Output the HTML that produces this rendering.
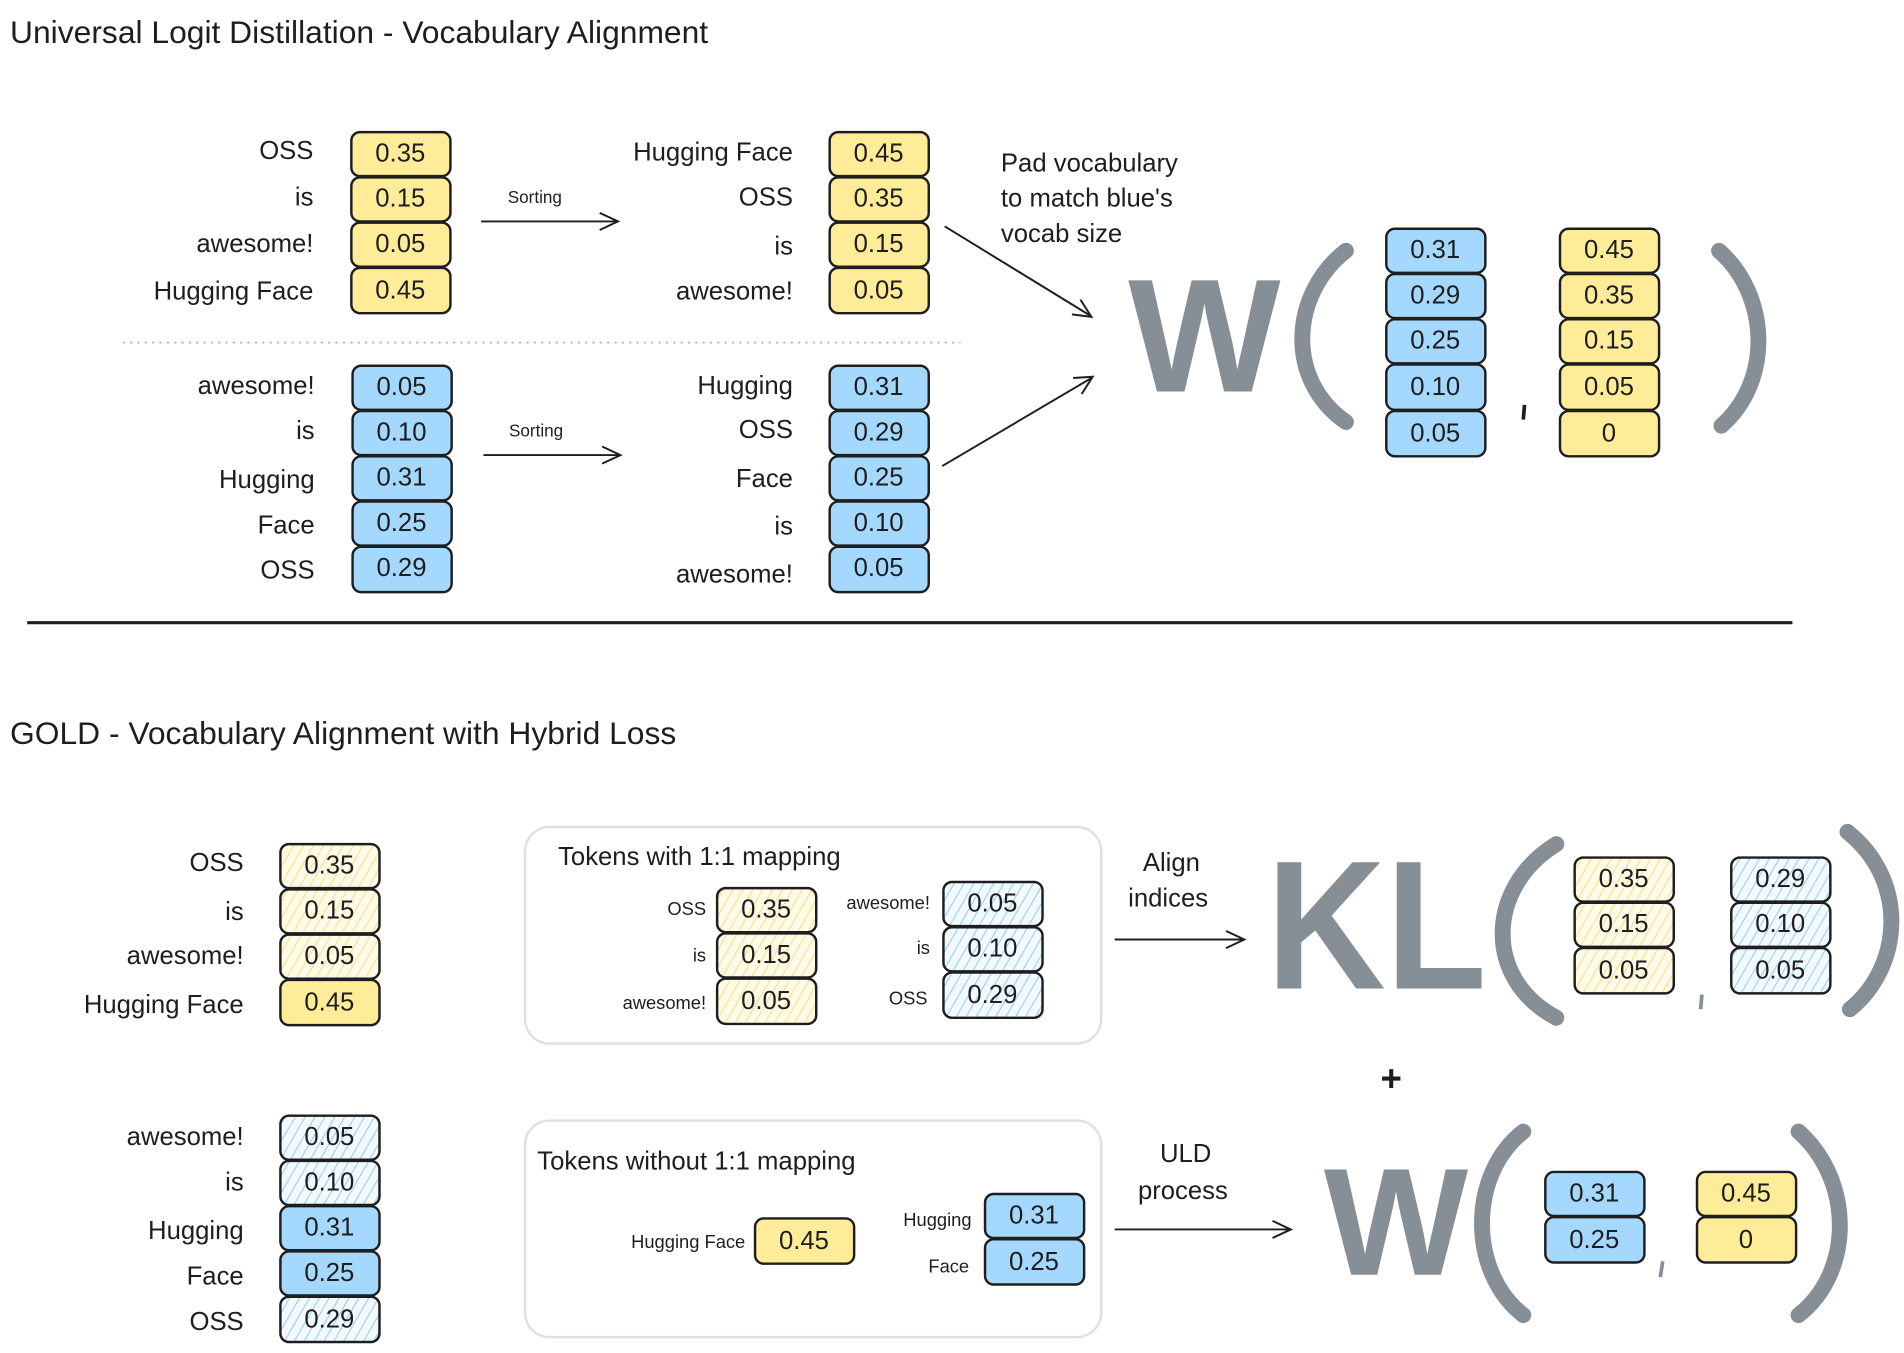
<!DOCTYPE html>
<html><head><meta charset="utf-8"><style>
html,body{margin:0;padding:0;background:#fff;}
svg{display:block;}
text{font-family:"Liberation Sans",sans-serif;fill:#1e1e1e;}
.t{font-size:26px;}
.l{font-size:21px;text-anchor:end;}
.s{font-size:15px;text-anchor:end;}
.v{font-size:21px;text-anchor:middle;}
.big{font-weight:bold;fill:#868e96;}
.y{fill:#ffec99;stroke:#1e1e1e;stroke-width:2;}
.b{fill:#a5d8ff;stroke:#1e1e1e;stroke-width:2;}
.yh{fill:url(#hy);stroke:#1e1e1e;stroke-width:2;}
.bh{fill:url(#hb);stroke:#1e1e1e;stroke-width:2;}
.ar{stroke:#1e1e1e;stroke-width:1.6;fill:none;}
.par{stroke:#868e96;stroke-width:13;fill:none;stroke-linecap:round;}
</style></head><body>
<svg width="1904" height="1353" viewBox="0 0 1556 1106" xmlns="http://www.w3.org/2000/svg">
<defs>
<pattern id="hy" width="7" height="7" patternUnits="userSpaceOnUse" patternTransform="rotate(30)"><rect width="7" height="7" fill="#fffbe8"/><line x1="0" y1="0" x2="0" y2="7" stroke="#f5dd7a" stroke-width="1.5"/></pattern>
<pattern id="hb" width="7" height="7" patternUnits="userSpaceOnUse" patternTransform="rotate(30)"><rect width="7" height="7" fill="#f2f9ff"/><line x1="0" y1="0" x2="0" y2="7" stroke="#8cc8f5" stroke-width="1.5"/></pattern>
</defs>

<text class="t" x="8" y="35">Universal Logit Distillation - Vocabulary Alignment</text>

<!-- top-left yellow -->
<rect class="y" x="287" y="108" width="81" height="36" rx="7"/><text class="v" x="327" y="132">0.35</text>
<rect class="y" x="287" y="145" width="81" height="36" rx="7"/><text class="v" x="327" y="169">0.15</text>
<rect class="y" x="287" y="182" width="81" height="36" rx="7"/><text class="v" x="327" y="206">0.05</text>
<rect class="y" x="287" y="219" width="81" height="37" rx="7"/><text class="v" x="327" y="244">0.45</text>
<text class="l" x="256" y="130">OSS</text><text class="l" x="256" y="168">is</text><text class="l" x="256" y="206">awesome!</text><text class="l" x="256" y="245">Hugging Face</text>

<line class="ar" x1="393" y1="181" x2="504" y2="181"/><path class="ar" d="M490 174 L505 181 L490 188"/>
<text x="437" y="166" style="font-size:14px;text-anchor:middle">Sorting</text>

<rect class="y" x="678" y="108" width="81" height="36" rx="7"/><text class="v" x="718" y="132">0.45</text>
<rect class="y" x="678" y="145" width="81" height="36" rx="7"/><text class="v" x="718" y="169">0.35</text>
<rect class="y" x="678" y="182" width="81" height="36" rx="7"/><text class="v" x="718" y="206">0.15</text>
<rect class="y" x="678" y="219" width="81" height="37" rx="7"/><text class="v" x="718" y="244">0.05</text>
<text class="l" x="648" y="131">Hugging Face</text><text class="l" x="648" y="168">OSS</text><text class="l" x="648" y="208">is</text><text class="l" x="648" y="245">awesome!</text>

<line x1="100" y1="280" x2="785" y2="280" stroke="#bbb" stroke-width="1.5" stroke-dasharray="2 4"/>

<!-- top blue -->
<rect class="b" x="288" y="299" width="81" height="36" rx="7"/><text class="v" x="328" y="323">0.05</text>
<rect class="b" x="288" y="336" width="81" height="36" rx="7"/><text class="v" x="328" y="360">0.10</text>
<rect class="b" x="288" y="373" width="81" height="36" rx="7"/><text class="v" x="328" y="397">0.31</text>
<rect class="b" x="288" y="410" width="81" height="36" rx="7"/><text class="v" x="328" y="434">0.25</text>
<rect class="b" x="288" y="447" width="81" height="37" rx="7"/><text class="v" x="328" y="471">0.29</text>
<text class="l" x="257" y="322">awesome!</text><text class="l" x="257" y="359">is</text><text class="l" x="257" y="399">Hugging</text><text class="l" x="257" y="436">Face</text><text class="l" x="257" y="473">OSS</text>

<line class="ar" x1="395" y1="372" x2="506" y2="372"/><path class="ar" d="M492 365 L507 372 L492 379"/>
<text x="438" y="357" style="font-size:14px;text-anchor:middle">Sorting</text>

<rect class="b" x="678" y="299" width="81" height="36" rx="7"/><text class="v" x="718" y="323">0.31</text>
<rect class="b" x="678" y="336" width="81" height="36" rx="7"/><text class="v" x="718" y="360">0.29</text>
<rect class="b" x="678" y="373" width="81" height="36" rx="7"/><text class="v" x="718" y="397">0.25</text>
<rect class="b" x="678" y="410" width="81" height="36" rx="7"/><text class="v" x="718" y="434">0.10</text>
<rect class="b" x="678" y="447" width="81" height="37" rx="7"/><text class="v" x="718" y="471">0.05</text>
<text class="l" x="648" y="322">Hugging</text><text class="l" x="648" y="358">OSS</text><text class="l" x="648" y="398">Face</text><text class="l" x="648" y="437">is</text><text class="l" x="648" y="476">awesome!</text>

<line class="ar" x1="772" y1="185" x2="891" y2="258"/><path class="ar" d="M876 257 L892 259 L883 245"/>
<line class="ar" x1="770" y1="381" x2="892" y2="309"/><path class="ar" d="M877 309 L893 308 L884 322"/>
<text x="818" y="140" style="font-size:21px">Pad vocabulary</text>
<text x="818" y="169" style="font-size:21px">to match blue's</text>
<text x="818" y="198" style="font-size:21px">vocab size</text>

<text class="big" x="922" y="320" style="font-size:132px">W</text>
<path class="par" d="M1100 205 C1055 240 1050 310 1100 345"/>
<rect class="b" x="1133" y="187" width="81" height="36" rx="7"/><text class="v" x="1173" y="211">0.31</text>
<rect class="b" x="1133" y="224" width="81" height="36" rx="7"/><text class="v" x="1173" y="248">0.29</text>
<rect class="b" x="1133" y="261" width="81" height="36" rx="7"/><text class="v" x="1173" y="285">0.25</text>
<rect class="b" x="1133" y="298" width="81" height="37" rx="7"/><text class="v" x="1173" y="323">0.10</text>
<rect class="b" x="1133" y="336" width="81" height="37" rx="7"/><text class="v" x="1173" y="361">0.05</text>
<line x1="1246" y1="331" x2="1245" y2="343" stroke="#1e1e1e" stroke-width="3"/>
<rect class="y" x="1275" y="187" width="81" height="36" rx="7"/><text class="v" x="1315" y="211">0.45</text>
<rect class="y" x="1275" y="224" width="81" height="36" rx="7"/><text class="v" x="1315" y="248">0.35</text>
<rect class="y" x="1275" y="261" width="81" height="36" rx="7"/><text class="v" x="1315" y="285">0.15</text>
<rect class="y" x="1275" y="298" width="81" height="37" rx="7"/><text class="v" x="1315" y="323">0.05</text>
<rect class="y" x="1275" y="336" width="81" height="37" rx="7"/><text class="v" x="1315" y="361">0</text>
<path class="par" d="M1405 205 C1445 240 1450 310 1407 348"/>

<line x1="22" y1="509" x2="1465" y2="509" stroke="#1e1e1e" stroke-width="2.5"/>

<text class="t" x="8" y="608">GOLD - Vocabulary Alignment with Hybrid Loss</text>

<!-- bottom left yellow -->
<rect class="yh" x="229" y="690" width="81" height="36" rx="7"/><text class="v" x="269" y="714">0.35</text>
<rect class="yh" x="229" y="727" width="81" height="36" rx="7"/><text class="v" x="269" y="751">0.15</text>
<rect class="yh" x="229" y="764" width="81" height="36" rx="7"/><text class="v" x="269" y="788">0.05</text>
<rect class="y" x="229" y="801" width="81" height="37" rx="7"/><text class="v" x="269" y="826">0.45</text>
<text class="l" x="199" y="712">OSS</text><text class="l" x="199" y="752">is</text><text class="l" x="199" y="788">awesome!</text><text class="l" x="199" y="828">Hugging Face</text>

<rect class="bh" x="229" y="912" width="81" height="36" rx="7"/><text class="v" x="269" y="936">0.05</text>
<rect class="bh" x="229" y="949" width="81" height="36" rx="7"/><text class="v" x="269" y="973">0.10</text>
<rect class="b" x="229" y="986" width="81" height="36" rx="7"/><text class="v" x="269" y="1010">0.31</text>
<rect class="b" x="229" y="1023" width="81" height="36" rx="7"/><text class="v" x="269" y="1047">0.25</text>
<rect class="bh" x="229" y="1060" width="81" height="37" rx="7"/><text class="v" x="269" y="1085">0.29</text>
<text class="l" x="199" y="936">awesome!</text><text class="l" x="199" y="973">is</text><text class="l" x="199" y="1013">Hugging</text><text class="l" x="199" y="1050">Face</text><text class="l" x="199" y="1087">OSS</text>

<!-- box 1 -->
<rect x="429" y="676" width="471" height="177" rx="20" fill="none" stroke="#e0e0e0" stroke-width="2"/>
<text x="456" y="707" style="font-size:21px">Tokens with 1:1 mapping</text>
<rect class="yh" x="586" y="726" width="81" height="36" rx="7"/><text class="v" x="626" y="750">0.35</text>
<rect class="yh" x="586" y="763" width="81" height="36" rx="7"/><text class="v" x="626" y="787">0.15</text>
<rect class="yh" x="586" y="800" width="81" height="37" rx="7"/><text class="v" x="626" y="825">0.05</text>
<text class="s" x="577" y="748">OSS</text><text class="s" x="577" y="786">is</text><text class="s" x="577" y="825">awesome!</text>
<rect class="bh" x="771" y="721" width="81" height="36" rx="7"/><text class="v" x="811" y="745">0.05</text>
<rect class="bh" x="771" y="758" width="81" height="36" rx="7"/><text class="v" x="811" y="782">0.10</text>
<rect class="bh" x="771" y="795" width="81" height="37" rx="7"/><text class="v" x="811" y="820">0.29</text>
<text class="s" x="760" y="743">awesome!</text><text class="s" x="760" y="780">is</text><text class="s" x="758" y="821">OSS</text>

<!-- box 2 -->
<rect x="429" y="916" width="471" height="177" rx="20" fill="none" stroke="#e0e0e0" stroke-width="2"/>
<text x="439" y="956" style="font-size:21px">Tokens without 1:1 mapping</text>
<text class="s" x="609" y="1020">Hugging Face</text>
<rect class="y" x="617" y="996" width="81" height="37" rx="7"/><text class="v" x="657" y="1021">0.45</text>
<rect class="b" x="805" y="976" width="81" height="36" rx="7"/><text class="v" x="845" y="1000">0.31</text>
<rect class="b" x="805" y="1013" width="81" height="37" rx="7"/><text class="v" x="845" y="1038">0.25</text>
<text class="s" x="794" y="1002">Hugging</text><text class="s" x="792" y="1040">Face</text>

<!-- align indices -->
<text x="934" y="712" style="font-size:21px">Align</text>
<text x="922" y="741" style="font-size:21px">indices</text>
<line class="ar" x1="911" y1="768" x2="1016" y2="768"/><path class="ar" d="M1002 761 L1017 768 L1002 775"/>

<text class="big" x="1035" y="808" style="font-size:150px" textLength="180" lengthAdjust="spacingAndGlyphs">KL</text>
<path class="par" d="M1272 690 C1215 725 1212 800 1272 832"/>
<rect class="yh" x="1287" y="701" width="81" height="36" rx="7"/><text class="v" x="1327" y="725">0.35</text>
<rect class="yh" x="1287" y="738" width="81" height="36" rx="7"/><text class="v" x="1327" y="762">0.15</text>
<rect class="yh" x="1287" y="775" width="81" height="37" rx="7"/><text class="v" x="1327" y="800">0.05</text>
<line x1="1391" y1="813" x2="1390" y2="825" stroke="#868e96" stroke-width="3"/>
<rect class="bh" x="1415" y="701" width="81" height="36" rx="7"/><text class="v" x="1455" y="725">0.29</text>
<rect class="bh" x="1415" y="738" width="81" height="36" rx="7"/><text class="v" x="1455" y="762">0.10</text>
<rect class="bh" x="1415" y="775" width="81" height="37" rx="7"/><text class="v" x="1455" y="800">0.05</text>
<path class="par" d="M1510 680 C1560 720 1555 790 1512 825"/>

<text x="1137" y="892" style="font-size:30px;text-anchor:middle;font-weight:bold">+</text>

<text x="948" y="950" style="font-size:21px">ULD</text>
<text x="930" y="980" style="font-size:21px">process</text>
<line class="ar" x1="911" y1="1005" x2="1054" y2="1005"/><path class="ar" d="M1040 998 L1055 1005 L1040 1012"/>

<text class="big" x="1082" y="1042" style="font-size:125px">W</text>
<path class="par" d="M1245 925 C1200 960 1200 1040 1245 1075"/>
<rect class="b" x="1263" y="958" width="81" height="36" rx="7"/><text class="v" x="1303" y="982">0.31</text>
<rect class="b" x="1263" y="995" width="81" height="37" rx="7"/><text class="v" x="1303" y="1020">0.25</text>
<line x1="1359" y1="1031" x2="1357" y2="1044" stroke="#868e96" stroke-width="3"/>
<rect class="y" x="1387" y="958" width="81" height="36" rx="7"/><text class="v" x="1427" y="982">0.45</text>
<rect class="y" x="1387" y="995" width="81" height="37" rx="7"/><text class="v" x="1427" y="1020">0</text>
<path class="par" d="M1470 925 C1515 965 1515 1040 1470 1075"/>
</svg>
</body></html>
